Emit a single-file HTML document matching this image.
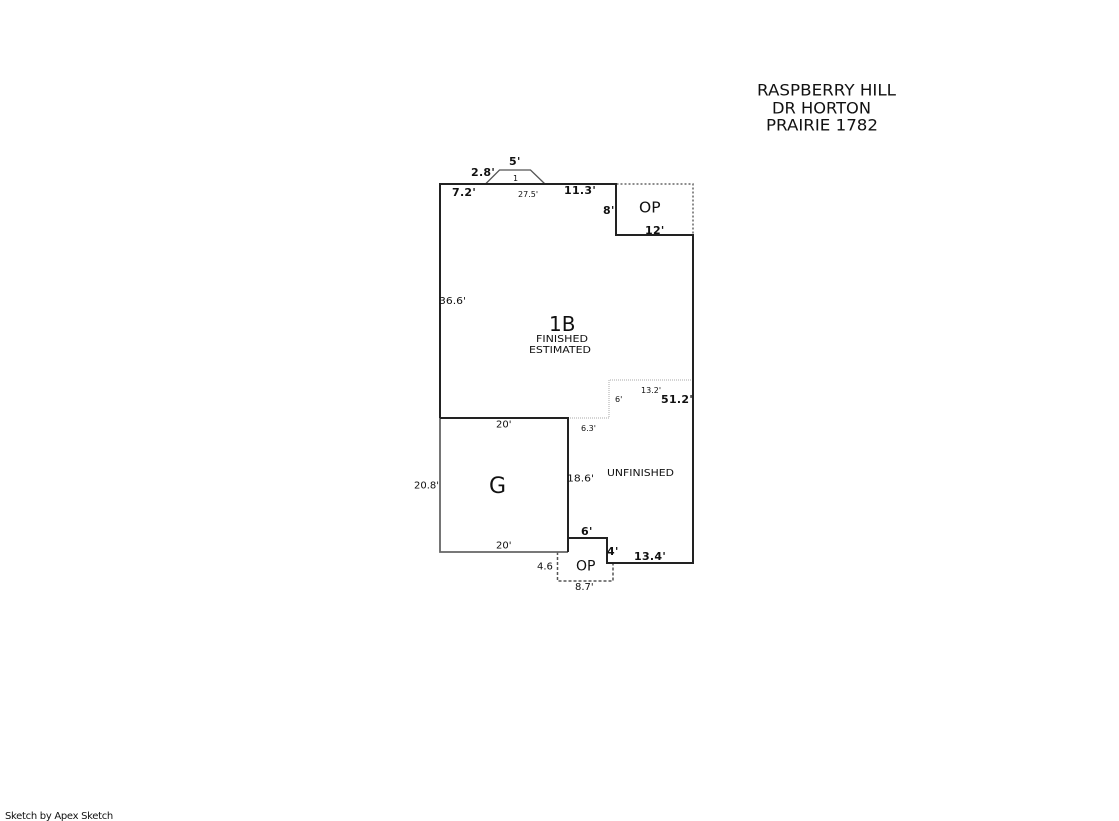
<!DOCTYPE html>
<html>
<head>
<meta charset="utf-8">
<style>
html,body{margin:0;padding:0;background:#fff;width:1119px;height:821px;overflow:hidden}
svg{display:block}
text{font-family:"DejaVu Sans","Liberation Sans",sans-serif;fill:#111}
.b{font-weight:bold;font-size:11px;letter-spacing:0.3px}
.n{font-size:10px}
.s{font-size:8px}
</style>
</head>
<body>
<svg width="1119" height="821" viewBox="0 0 1119 821" xmlns="http://www.w3.org/2000/svg">
<!-- dotted porch / unfinished outlines -->
<path d="M616.5 184H693V235" fill="none" stroke="#666" stroke-width="1.500" stroke-dasharray="2 2"/>
<path d="M557.500 552V581H613V563" fill="none" stroke="#555" stroke-width="1.500" stroke-dasharray="3 2"/>
<path d="M568 418H609V380H693" fill="none" stroke="#aaa" stroke-width="1" stroke-dasharray="1 1"/>
<!-- bay -->
<path d="M485.500 184L499.500 170H530.500L545 184" fill="none" stroke="#555" stroke-width="1.300"/>
<!-- garage -->
<path d="M440 418V552H568" fill="none" stroke="#666" stroke-width="1.800"/>
<!-- main walls -->
<path d="M440 418V184H616V235H693V563H607V538H568V418H440" fill="none" stroke="#222" stroke-width="2"/>
<path d="M568 538V552" fill="none" stroke="#222" stroke-width="2"/>

<!-- title -->
<text x="757" y="95.500" font-size="16" textLength="139" lengthAdjust="spacingAndGlyphs">RASPBERRY HILL</text>
<text x="772" y="113.500" font-size="16" textLength="99" lengthAdjust="spacingAndGlyphs">DR HORTON</text>
<text x="766" y="130.500" font-size="16" textLength="112" lengthAdjust="spacingAndGlyphs">PRAIRIE 1782</text>

<!-- bold dimensions -->
<text class="b" x="509" y="165">5'</text>
<text class="b" x="471" y="176">2.8'</text>
<text class="b" x="452" y="196">7.2'</text>
<text class="b" x="564" y="194">11.3'</text>
<text class="b" x="603" y="214">8'</text>
<text class="b" x="645" y="234">12'</text>
<text class="b" x="661" y="403">51.2'</text>
<text class="b" x="581" y="535">6'</text>
<text class="b" x="607" y="555">4'</text>
<text class="b" x="634" y="560">13.4'</text>

<!-- regular dimensions -->
<text class="s" x="513" y="181">1</text>
<text class="s" x="518" y="197">27.5'</text>
<text class="n" x="439" y="304" textLength="27" lengthAdjust="spacingAndGlyphs">36.6'</text>
<text class="s" x="641" y="393">13.2'</text>
<text class="s" x="615" y="402">6'</text>
<text class="s" x="581" y="431">6.3'</text>
<text class="n" x="496" y="427.500">20'</text>
<text class="n" x="414" y="488.500">20.8'</text>
<text class="n" x="567" y="481.500" textLength="27" lengthAdjust="spacingAndGlyphs">18.6'</text>
<text class="n" x="496" y="548.500">20'</text>
<text class="n" x="537" y="569.500">4.6</text>
<text class="n" x="575" y="590">8.7'</text>

<!-- room labels -->
<text x="639" y="212.500" font-size="15.500">OP</text>
<text x="576" y="570.500" font-size="14">OP</text>
<text x="549" y="331" font-size="20">1B</text>
<text x="536" y="342" font-size="9.500" textLength="52" lengthAdjust="spacingAndGlyphs">FINISHED</text>
<text x="529" y="353" font-size="9.500" textLength="62" lengthAdjust="spacingAndGlyphs">ESTIMATED</text>
<text x="607" y="476" font-size="9.500" textLength="67" lengthAdjust="spacingAndGlyphs">UNFINISHED</text>
<text x="489" y="493" font-size="22">G</text>

<text x="5" y="819" font-size="10" letter-spacing="-0.300">Sketch by Apex Sketch</text>
</svg>
</body>
</html>
